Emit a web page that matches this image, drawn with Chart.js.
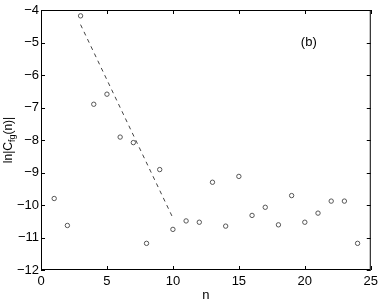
<!DOCTYPE html>
<html>
<head>
<meta charset="utf-8">
<script src="https://cdn.jsdelivr.net/npm/chart.js@4/dist/chart.umd.min.js"></script>
<style>
  html, body { margin: 0; padding: 0; background: #fff; }
  #wrap { width: 382px; height: 302px; }
</style>
</head>
<body>
<div id="wrap"><canvas id="corrChart" width="382" height="302"></canvas></div>
<script>
// n values and ln|C_fg(n)|
const nValues = [1, 2, 3, 4, 5, 6, 7, 8, 9, 10, 11, 12, 13, 14, 15, 16, 17, 18, 19, 20, 21, 22, 23, 24];
const lnC = [-9.80, -10.63, -4.18, -6.90, -6.59, -7.91, -8.08, -11.18, -8.91, -10.75, -10.49, -10.53,
             -9.30, -10.65, -9.12, -10.32, -10.07, -10.61, -9.71, -10.53, -10.25, -9.88, -9.88, -11.18];

// dashed fit line end points
const fitN = [3, 10];
const fitY = [-4.45, -10.4];

const xTicks = [0, 5, 10, 15, 20, 25];
const yTicks = [-12, -11, -10, -9, -8, -7, -6, -5, -4];

const FONT = '"Liberation Sans", Arial, sans-serif';

const points = nValues.map((n, i) => ({ x: n, y: lnC[i] }));
const fitLine = fitN.map((n, i) => ({ x: n, y: fitY[i] }));

// box, inward ticks on all sides and the text labels
const framePlugin = {
    id: 'frame',
    afterDraw(chart) {
        const ctx = chart.ctx;
        const a = chart.chartArea;
        const xs = chart.scales.x;
        const ys = chart.scales.y;
        ctx.save();
        ctx.strokeStyle = '#000';
        ctx.lineWidth = 1;
        ctx.strokeRect(a.left + 0.5, a.top + 0.5, a.right - a.left - 1, a.bottom - a.top - 1);
        const len = 4;
        ctx.beginPath();
        xTicks.forEach(t => {
            const px = Math.round(xs.getPixelForValue(t)) + 0.5;
            ctx.moveTo(px, a.bottom); ctx.lineTo(px, a.bottom - len);
            ctx.moveTo(px, a.top); ctx.lineTo(px, a.top + len);
        });
        yTicks.forEach(t => {
            const py = Math.round(ys.getPixelForValue(t)) + 0.5;
            ctx.moveTo(a.left, py); ctx.lineTo(a.left + len, py);
            ctx.moveTo(a.right, py); ctx.lineTo(a.right - len, py);
        });
        ctx.stroke();

        ctx.fillStyle = '#000';
        // panel label
        ctx.font = '13px ' + FONT;
        ctx.textAlign = 'center';
        ctx.textBaseline = 'middle';
        ctx.fillText('(b)', xs.getPixelForValue(20.3), ys.getPixelForValue(-5.0));

        // x axis title
        ctx.fillText('n', (a.left + a.right) / 2, 295);

        // y axis title with subscript
        ctx.translate(9, (a.top + a.bottom) / 2);
        ctx.rotate(-Math.PI / 2);
        ctx.textBaseline = 'middle';
        const parts = [['ln|C', 12, 0], ['fg', 9, 4], ['(n)|', 12, 0]];
        let total = 0;
        parts.forEach(p => { ctx.font = p[1] + 'px ' + FONT; total += ctx.measureText(p[0]).width; });
        let cx = -total / 2;
        ctx.textAlign = 'left';
        parts.forEach(p => {
            ctx.font = p[1] + 'px ' + FONT;
            ctx.fillText(p[0], cx, p[2]);
            cx += ctx.measureText(p[0]).width;
        });
        ctx.restore();
    }
};

const ctx = document.getElementById('corrChart').getContext('2d');
const corrChart = new Chart(ctx, {
    type: 'scatter',
    data: {
        datasets: [{
            label: 'data',
            data: points,
            pointStyle: 'circle',
            pointRadius: 2.2,
            pointBorderWidth: 1,
            borderColor: '#555',
            backgroundColor: 'rgba(0,0,0,0)',
            showLine: false
        }, {
            label: 'fit',
            data: fitLine,
            showLine: true,
            pointRadius: 0,
            borderColor: '#444',
            borderWidth: 1,
            borderDash: [4, 4]
        }]
    },
    options: {
        responsive: false,
        animation: false,
        events: [],
        layout: { padding: { left: 0, right: 10, top: 10, bottom: 0 } },
        plugins: {
            legend: { display: false },
            tooltip: { enabled: false }
        },
        scales: {
            x: {
                type: 'linear',
                min: 0,
                max: 25,
                afterFit(scale) { scale.height = 32; },
                afterBuildTicks(scale) { scale.ticks = xTicks.map(v => ({ value: v })); },
                grid: { display: false, drawTicks: false },
                border: { display: false },
                ticks: {
                    color: '#000',
                    padding: 4,
                    maxRotation: 0,
                    font: { family: FONT, size: 13 }
                }
            },
            y: {
                type: 'linear',
                min: -12,
                max: -4,
                afterFit(scale) { scale.width = 41; },
                afterBuildTicks(scale) { scale.ticks = yTicks.map(v => ({ value: v })); },
                grid: { display: false, drawTicks: false },
                border: { display: false },
                ticks: {
                    color: '#000',
                    padding: 2,
                    font: { family: FONT, size: 13 },
                    callback: v => String(v).replace('-', '\u2212')
                }
            }
        }
    },
    plugins: [framePlugin]
});
</script>
</body>
</html>
